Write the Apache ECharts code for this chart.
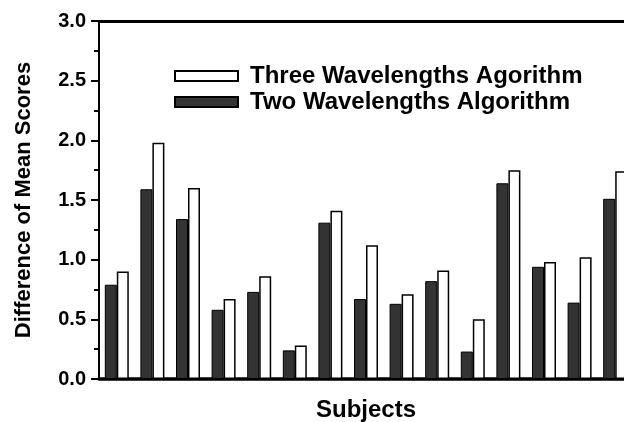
<!DOCTYPE html>
<html>
<head>
<meta charset="utf-8">
<script src="https://cdn.jsdelivr.net/npm/echarts@6/dist/echarts.min.js"></script>
<style>
html,body{margin:0;padding:0;background:#fff;}
#chart{width:624px;height:422px;}
</style>
</head>
<body>
<div id="chart"></div>
<script>
var subjects = ['1','2','3','4','5','6','7','8','9','10','11','12','13','14','15'];
var twoWavelengths = [0.79, 1.59, 1.34, 0.58, 0.73, 0.24, 1.31, 0.67, 0.63, 0.82, 0.23, 1.64, 0.94, 0.64, 1.51];
var threeWavelengths = [0.90, 1.98, 1.60, 0.67, 0.86, 0.28, 1.41, 1.12, 0.71, 0.91, 0.50, 1.75, 0.98, 1.02, 1.74];
var yTicks = [0, 0.5, 1.0, 1.5, 2.0, 2.5, 3.0];
var nameThree = 'Three Wavelengths Agorithm';
var nameTwo = 'Two Wavelengths Algorithm';

var chart = echarts.init(document.getElementById('chart'));
var font = 'Liberation Sans, Arial, sans-serif';
chart.setOption({
  animation: false,
  backgroundColor: '#fff',
  grid: {left: 99, top: 21, bottom: 43, width: 534, containLabel: false, outerBoundsMode: 'none'},
  legend: {
    data: [nameThree, nameTwo],
    orient: 'vertical',
    left: 169,
    top: 59,
    itemWidth: 63,
    itemHeight: 10,
    itemGap: 2,
    icon: 'rect',
    textStyle: {fontFamily: font, fontWeight: 'bold', fontSize: 24, color: '#000', padding: [0, 0, 0, 7]}
  },
  xAxis: [{
    type: 'category',
    data: subjects,
    position: 'bottom',
    axisLine: {lineStyle: {color: '#000', width: 3.5}},
    axisTick: {show: false},
    axisLabel: {show: false},
    name: 'Subjects',
    nameLocation: 'middle',
    nameGap: 19,
    nameTextStyle: {fontFamily: font, fontWeight: 'bold', fontSize: 24, color: '#000'}
  }, {
    type: 'category',
    data: subjects,
    position: 'top',
    axisLine: {lineStyle: {color: '#000', width: 3}},
    axisTick: {show: false},
    axisLabel: {show: false}
  }],
  yAxis: {
    type: 'value',
    min: 0,
    max: 3,
    interval: 0.5,
    axisLine: {show: true, lineStyle: {color: '#000', width: 2}},
    axisTick: {show: true, inside: false, length: 8, lineStyle: {color: '#000', width: 2}},
    minorTick: {show: true, splitNumber: 2, length: 5, lineStyle: {color: '#000', width: 2}},
    splitLine: {show: false},
    axisLabel: {
      fontFamily: font, fontWeight: 'bold', fontSize: 20, color: '#000', margin: 13,
      formatter: function (v) { return v.toFixed(1); }
    },
    name: 'Difference of Mean Scores',
    nameLocation: 'middle',
    nameGap: 64,
    nameTextStyle: {fontFamily: font, fontWeight: 'bold', fontSize: 22, color: '#000'}
  },
  series: [{
    name: nameTwo,
    type: 'bar',
    data: twoWavelengths,
    barWidth: 12,
    barGap: '0%',
    itemStyle: {color: '#333', borderColor: '#000', borderWidth: 1}
  }, {
    name: nameThree,
    type: 'bar',
    data: threeWavelengths,
    barWidth: 12,
    barGap: '0%',
    itemStyle: {color: '#fff', borderColor: '#000', borderWidth: 1.5}
  }]
});
</script>
</body>
</html>
